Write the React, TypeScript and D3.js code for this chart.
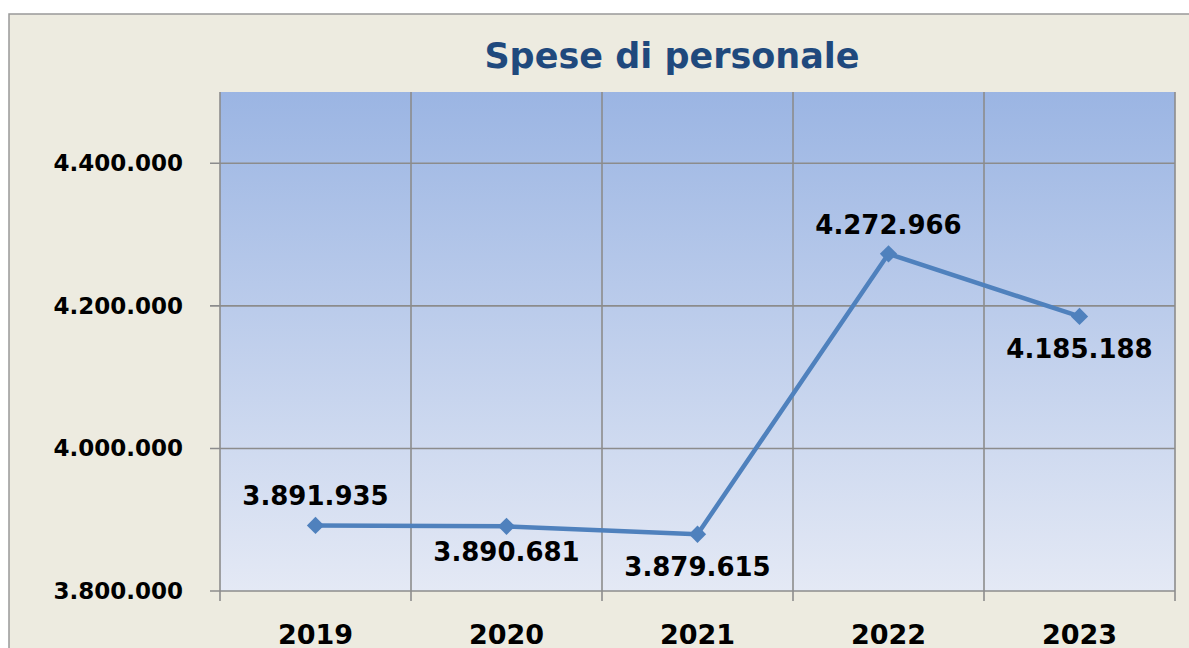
import * as d3 from "d3";

// Chart data
const years = ["2019", "2020", "2021", "2022", "2023"];
const spese = [3891935, 3890681, 3879615, 4272966, 4185188];
const labelAbove = [true, false, false, true, false];
const yTicks = [3800000, 4000000, 4200000, 4400000];

const W = 1189;
const H = 648;
const plot = { left: 220, right: 1175, top: 92, bottom: 591 };
const font = "'DejaVu Sans', Verdana, sans-serif";

// Italian thousands separator
const fmt = d3.formatLocale({
  decimal: ",",
  thousands: ".",
  grouping: [3],
  currency: ["€", ""],
}).format(",d");

const App = () => {
  const x = d3.scaleBand().domain(years).range([plot.left, plot.right]);
  const y = d3.scaleLinear().domain([3800000, 4500000]).range([plot.bottom, plot.top]);

  const line = d3
    .line<number>()
    .x((_, i) => x(years[i])! + x.bandwidth() / 2)
    .y((d) => y(d));

  const diamond = d3.symbol().type(d3.symbolDiamond2).size(190)();

  // label offsets: above the marker, or below (2020 sits a bit closer, as in Excel)
  const labelY = (i: number, cy: number) => {
    if (labelAbove[i]) return cy - 20;
    return i === 1 ? cy + 35 : cy + 42;
  };

  return (
    <svg
      width={W}
      height={H}
      style={{ position: "fixed", left: 0, top: 0, display: "block" }}
    >
      <defs>
        <linearGradient id="plot-bg" x1="0" y1="0" x2="0" y2="1">
          <stop offset="0%" stopColor="#9bb5e3" />
          <stop offset="100%" stopColor="#e4e9f5" />
        </linearGradient>
      </defs>

      <rect x={0} y={0} width={W} height={H} fill="#fff" />
      <rect x={9} y={14} width={W} height={H} fill="#edebe0" stroke="#999" strokeWidth={1.5} />

      <text
        x={672}
        y={68}
        textAnchor="middle"
        fontFamily={font}
        fontWeight="bold"
        fontSize={35}
        fill="#1f497d"
      >
        Spese di personale
      </text>

      {/* plot area */}
      <rect
        x={plot.left}
        y={plot.top}
        width={plot.right - plot.left}
        height={plot.bottom - plot.top}
        fill="url(#plot-bg)"
      />

      {/* horizontal grid + y ticks */}
      {yTicks.map((t) => (
        <g key={t}>
          <line x1={plot.left - 10} x2={plot.right} y1={y(t)} y2={y(t)} stroke="#8c8c8c" strokeWidth={1.6} />
          <text
            x={183}
            y={y(t) + 8}
            textAnchor="end"
            fontFamily={font}
            fontWeight="bold"
            fontSize={23}
            fill="#000"
          >
            {fmt(t)}
          </text>
        </g>
      ))}

      {/* vertical grid at category boundaries */}
      {[...years.map((c) => x(c)!), plot.right].map((bx, i) => (
        <line
          key={i}
          x1={bx}
          x2={bx}
          y1={plot.top}
          y2={plot.bottom + 10}
          stroke="#8c8c8c"
          strokeWidth={1.6}
        />
      ))}

      {/* category labels */}
      {years.map((c) => (
        <text
          key={c}
          x={x(c)! + x.bandwidth() / 2}
          y={644}
          textAnchor="middle"
          fontFamily={font}
          fontWeight="bold"
          fontSize={27}
          fill="#000"
        >
          {c}
        </text>
      ))}

      <path d={line(spese)!} fill="none" stroke="#4f81bd" strokeWidth={4.5} strokeLinejoin="round" />

      {spese.map((v, i) => {
        const cx = x(years[i])! + x.bandwidth() / 2;
        const cy = y(v);
        return (
          <g key={i}>
            <path d={diamond!} transform={`translate(${cx},${cy})`} fill="#4f81bd" />
            <text
              x={cx}
              y={labelY(i, cy)}
              textAnchor="middle"
              fontFamily={font}
              fontWeight="bold"
              fontSize={26}
              fill="#000"
            >
              {fmt(v)}
            </text>
          </g>
        );
      })}
    </svg>
  );
};

export default App;
